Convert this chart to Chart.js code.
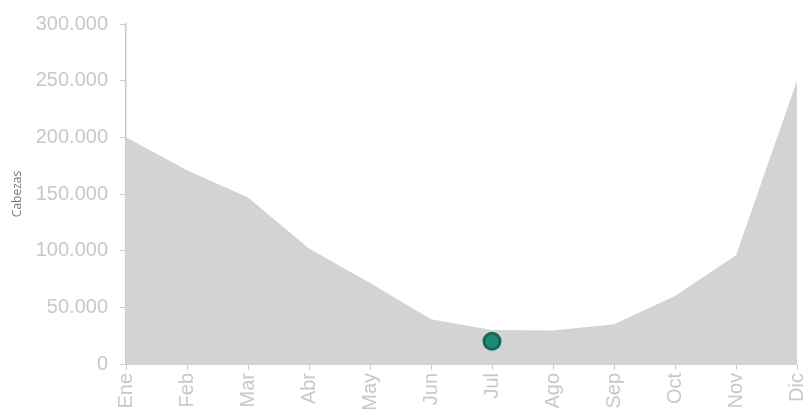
<!DOCTYPE html>
<html>
<head>
<meta charset="utf-8">
<script src="https://cdn.jsdelivr.net/npm/chart.js@4/dist/chart.umd.min.js"></script>
<style>
  html, body { margin: 0; padding: 0; background: #fff; }
  #wrap { width: 808px; height: 413px; }
</style>
</head>
<body>
<div id="wrap"><canvas id="c"></canvas></div>
<script>
// ── DATA ──
const months = ['Ene','Feb','Mar','Abr','May','Jun','Jul','Ago','Sep','Oct','Nov','Dic'];
const cabezas = [200000, 171000, 147000, 102000, 71500, 39500, 30000, 29500, 35000, 60000, 96000, 250000];
const marker = [null, null, null, null, null, null, 20000, null, null, null, null, null];
const yTicks = [0, 50000, 100000, 150000, 200000, 250000, 300000];

const fmt = v => v === 0 ? '0' : v.toLocaleString('de-DE');
const TICK = '#c8c8c8';

new Chart(document.getElementById('c'), {
  type: 'line',
  data: {
    labels: months,
    datasets: [
      { data: marker, order: 0, showLine: false,
        pointRadius: 8, pointHoverRadius: 8, pointBackgroundColor: '#1f8a78',
        pointBorderColor: '#146958', pointBorderWidth: 3 },
      { data: cabezas, order: 1, fill: 'origin', backgroundColor: '#d3d3d3',
        borderWidth: 0, pointRadius: 0, tension: 0 }
    ]
  },
  options: {
    responsive: true, maintainAspectRatio: false, animation: false,
    layout: { padding: { top: 24, right: 10, left: 0, bottom: 0 } },
    plugins: { legend: { display: false }, tooltip: { enabled: false } },
    scales: {
      x: {
        afterFit: s => { s.height = 49; s.paddingLeft = 0; s.paddingRight = 0; },
        grid: { drawOnChartArea: false, color: '#cccccc', tickLength: 6 },
        border: { color: '#d3d3d3' },
        ticks: { color: TICK, minRotation: 90, maxRotation: 90, padding: 3,
          font: { family: 'Liberation Sans', size: 20 } }
      },
      y: {
        min: 0, max: 300000,
        afterFit: s => { s.width = 126; s.paddingTop = 0; s.paddingBottom = 0; },
        afterBuildTicks: s => { s.ticks = yTicks.map(v => ({ value: v })); },
        grid: { drawOnChartArea: false, color: '#cccccc', tickLength: 6 },
        border: { color: '#cccccc', width: 1.5 },
        title: { display: true, text: 'Cabezas', color: '#777',
          font: { family: 'Open Sans', size: 12 }, padding: { top: 10, bottom: 0 } },
        ticks: { color: TICK, padding: 12, callback: v => fmt(v),
          font: { family: 'Liberation Sans', size: 20 } }
      }
    }
  }
});
</script>
</body>
</html>
